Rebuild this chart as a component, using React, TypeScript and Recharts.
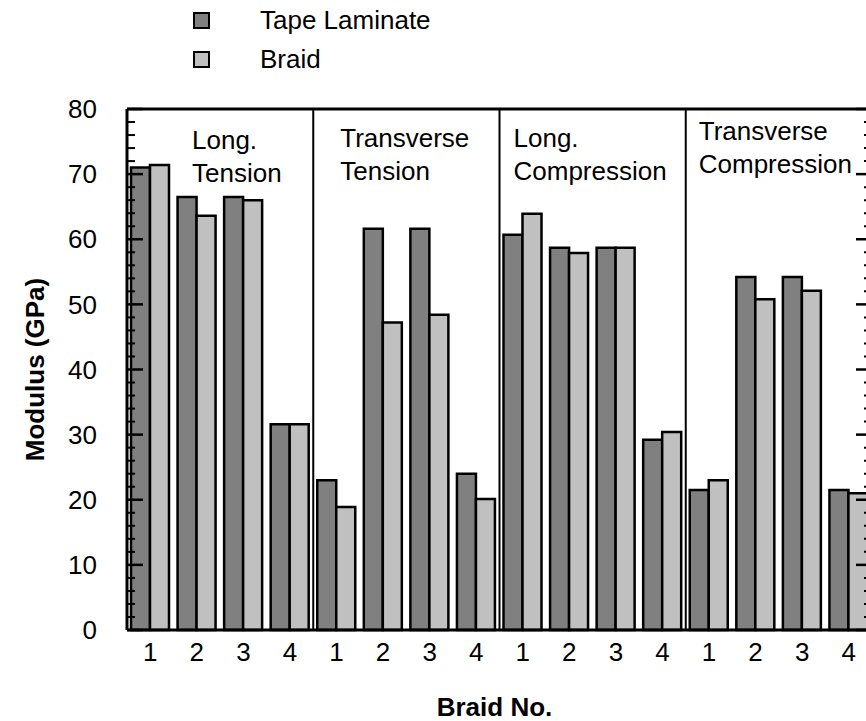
import { BarChart, Bar, XAxis, YAxis, ReferenceLine, Legend, Label } from 'recharts';

// modulus (GPa) per loading case, braid 1-4 in each case
const braidNo = ['1', '2', '3', '4'];
const caseKeys = ['LT', 'TT', 'LC', 'TC'];
const caseTitles = [
  ['Long.', 'Tension'],
  ['Transverse', 'Tension'],
  ['Long.', 'Compression'],
  ['Transverse', 'Compression'],
];

const tapeLaminate = [
  71.0, 66.5, 66.5, 31.6,
  23.0, 61.6, 61.6, 24.0,
  60.7, 58.7, 58.7, 29.2,
  21.5, 54.2, 54.2, 21.5,
];
const braid = [
  71.4, 63.6, 66.0, 31.6,
  18.9, 47.2, 48.4, 20.1,
  63.9, 57.9, 58.7, 30.4,
  23.0, 50.8, 52.1, 21.0,
];

const majorTicks = [0, 10, 20, 30, 40, 50, 60, 70, 80];
const minorTicks = [
  0, 2, 4, 6, 8, 10, 12, 14, 16, 18, 20, 22, 24, 26, 28, 30, 32, 34, 36, 38, 40,
  42, 44, 46, 48, 50, 52, 54, 56, 58, 60, 62, 64, 66, 68, 70, 72, 74, 76, 78, 80,
];

const rows = caseKeys.flatMap((c, ci) =>
  braidNo.map((n, i) => ({
    id: c + n,
    no: n,
    tape: tapeLaminate[ci * 4 + i],
    braid: braid[ci * 4 + i],
  })),
);

const FONT = '"Liberation Sans", Arial, sans-serif';
const TAPE = '#808080';
const BRAID = '#c0c0c0';
const seriesNames = ['Tape Laminate', 'Braid'];
const seriesColors = [TAPE, BRAID];

const W = 900;
const H = 721;
const MARGIN = { top: 109, right: 0, bottom: 61, left: 67 };

// title placement inside each case panel
const titleDx = [65, 27, 14, 13];
const titleDy = [40, 38, 38, 31];

const CaseTitle = (props: any) => {
  const { viewBox, lines, dx, dy } = props;
  const x = viewBox.x + dx;
  const y = viewBox.y + dy;
  return (
    <text x={x} y={y} fontFamily={FONT} fontSize={26} fill="#000">
      <tspan x={x} y={y}>{lines[0]}</tspan>
      <tspan x={x} y={y + 33}>{lines[1]}</tspan>
    </text>
  );
};

const YTitle = (props: any) => {
  const { viewBox } = props;
  const x = viewBox.x - 32;
  const y = viewBox.y + viewBox.height / 2;
  return (
    <text
      x={x} y={y} transform={`rotate(-90 ${x} ${y})`}
      textAnchor="middle" dominantBaseline="central"
      fontFamily={FONT} fontSize={26} fontWeight="bold" fill="#000"
    >
      Modulus (GPa)
    </text>
  );
};

const XTitle = (props: any) => {
  const { viewBox } = props;
  return (
    <text
      x={viewBox.x + viewBox.width / 2 - 5} y={viewBox.y + 86}
      textAnchor="middle" fontFamily={FONT} fontSize={26} fontWeight="bold" fill="#000"
    >
      Braid No.
    </text>
  );
};

const LegendBox = () => (
  <div style={{ fontFamily: FONT, fontSize: 26, color: '#000' }}>
    {seriesNames.map((name, i) => (
      <div key={name} style={{ display: 'flex', alignItems: 'center', height: 39 }}>
        <span
          style={{
            display: 'inline-block', width: 17, height: 17, boxSizing: 'border-box',
            border: '2.5px solid #000', background: seriesColors[i], marginRight: 50,
          }}
        />
        <span>{name}</span>
      </div>
    ))}
  </div>
);

// inward tick marks every 2 GPa, longer every 10; dir 1 = left edge, -1 = right edge
const TickMark = (props: any) => {
  const { x, y, payload, dir } = props;
  const major = majorTicks.includes(payload.value);
  const len = major ? 16 : 8;
  return <line x1={x} x2={x + dir * len} y1={y} y2={y} stroke="#000" strokeWidth={major ? 2.5 : 2} />;
};

export default function App() {
  return (
    <div style={{ position: 'fixed', left: 0, top: 0, width: 866, height: 721, overflow: 'hidden', background: '#fff' }}>
      <BarChart width={W} height={H} data={rows} margin={MARGIN} barCategoryGap={4} barGap={0}>
        <Bar dataKey="tape" name={seriesNames[0]} fill={TAPE} stroke="#000" strokeWidth={2.5} isAnimationActive={false} />
        <Bar dataKey="braid" name={seriesNames[1]} fill={BRAID} stroke="#000" strokeWidth={2.5} isAnimationActive={false} />

        <ReferenceLine y={80} stroke="#000" strokeWidth={3} />
        {caseKeys.map((c, ci) => (
          <ReferenceLine
            key={c} x={c + braidNo[0]} position="start" stroke="#000" strokeWidth={ci === 0 ? 0 : 2}
            label={<CaseTitle lines={caseTitles[ci]} dx={titleDx[ci]} dy={titleDy[ci]} />}
          />
        ))}

        <XAxis
          dataKey="id" height={30} interval={0}
          tickFormatter={(v: string) => v.slice(2)}
          tickLine={false} tickSize={0} tickMargin={13}
          axisLine={{ stroke: '#000', strokeWidth: 3 }}
          tick={{ fill: '#000', fontSize: 26, fontFamily: FONT }}
        >
          <Label content={XTitle} />
        </XAxis>
        <YAxis
          domain={[0, 80]} ticks={majorTicks} width={60} interval={0}
          tickLine={false} axisLine={{ stroke: '#000', strokeWidth: 3 }} tickSize={0} tickMargin={30}
          tick={{ fill: '#000', fontSize: 26, fontFamily: FONT }}
        >
          <Label content={YTitle} />
        </YAxis>
        <YAxis
          yAxisId="right" orientation="right" domain={[0, 80]} width={28}
          allowDataOverflow tick={false} tickLine={false} axisLine={{ stroke: '#000', strokeWidth: 3 }}
        />

        <Legend
          layout="vertical" align="center" verticalAlign="middle"
          wrapperStyle={{ position: 'absolute', top: 1, left: 193, width: 'auto', height: 'auto' }}
          content={LegendBox}
        />
      </BarChart>

      {/* frame tick marks sit on top of the bars */}
      <div style={{ position: 'absolute', left: 0, top: 0, pointerEvents: 'none' }}>
        <BarChart width={W} height={H} data={rows} margin={{ ...MARGIN, bottom: MARGIN.bottom + 30 }}>
          <XAxis dataKey="id" hide />
          <YAxis
            domain={[0, 80]} ticks={minorTicks} width={60} interval={0}
            allowDataOverflow tickLine={false} axisLine={false} tickSize={0} tickMargin={0}
            tick={<TickMark dir={1} />}
          />
          <YAxis
            yAxisId="right" orientation="right" domain={[0, 80]} ticks={minorTicks} width={28} interval={0}
            allowDataOverflow tickLine={false} axisLine={false} tickSize={0} tickMargin={0}
            tick={<TickMark dir={-1} />}
          />
        </BarChart>
      </div>
    </div>
  );
}
